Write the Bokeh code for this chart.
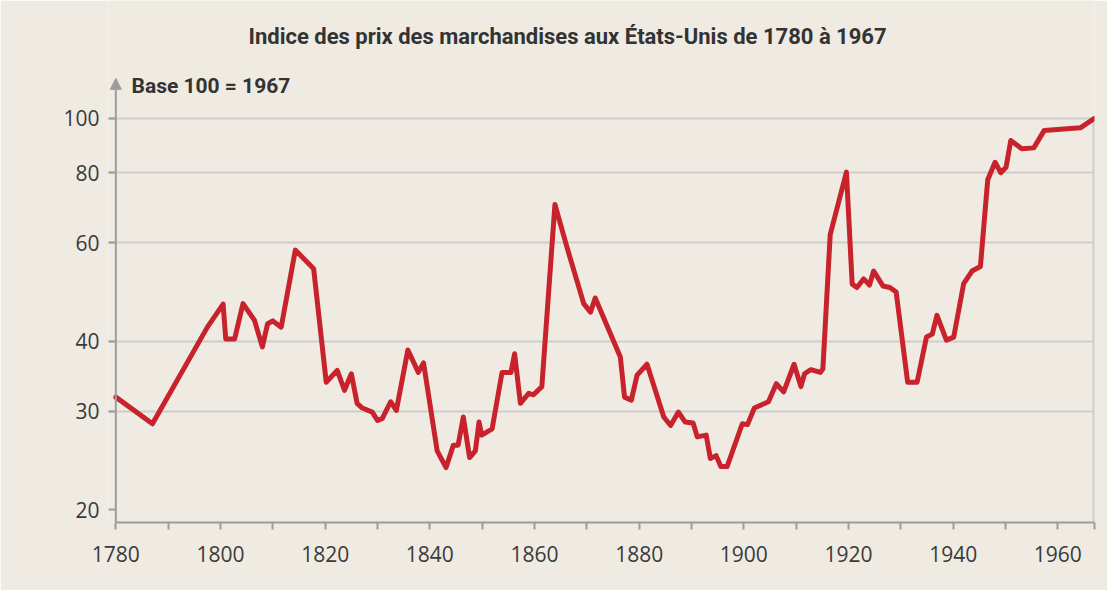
from bokeh.plotting import figure
from bokeh.models import FixedTicker, Label, Arrow, NormalHead, Range1d, ColumnDataSource
from bokeh.embed import file_html
from bokeh.resources import INLINE

# ---- data ----
years = [1780, 1787, 1797.5, 1800.5, 1801, 1802.7, 1804.3, 1806.5, 1808, 1809,
         1810, 1811.6, 1814.3, 1817.8, 1820.2, 1822.3, 1823.7, 1825, 1826.1, 1827.1,
         1829, 1830, 1830.9, 1832.5, 1833.6, 1835.8, 1837.8, 1838.8, 1841.4, 1843.1,
         1844.5, 1845.4, 1846.4, 1847.6, 1848.7, 1849.4, 1849.9, 1851.9, 1853.8, 1855.5,
         1856.2, 1857.3, 1858.9, 1859.8, 1861.4, 1863.9, 1866.2, 1869.4, 1870.7, 1871.6,
         1876.4, 1877.2, 1878.5, 1879.6, 1881.5, 1884.7, 1886, 1887.5, 1888.8, 1890.3,
         1891.1, 1892.8, 1893.6, 1894.7, 1895.6, 1896.8, 1899.7, 1900.7, 1902, 1904.7,
         1906.2, 1907.6, 1909.6, 1910.9, 1911.6, 1912.8, 1914.6, 1915.1, 1916.5, 1919.6,
         1920.7, 1921.6, 1922.9, 1924, 1924.8, 1926.6, 1927.9, 1929.1, 1931.3, 1933.1,
         1934.9, 1936, 1936.9, 1938.7, 1940.1, 1942, 1943.6, 1945.2, 1946.6, 1948,
         1949.1, 1950.1, 1951, 1953.1, 1955.4, 1957.4, 1964.3, 1967]
index = [31.8, 28.5, 42.4, 46.6, 40.4, 40.4, 46.7, 43.6, 39.1, 43.0,
         43.5, 42.4, 58.2, 53.9, 33.8, 35.5, 32.7, 35.0, 31.0, 30.4,
         29.9, 28.9, 29.1, 31.2, 30.1, 38.6, 35.2, 36.6, 25.5, 23.8,
         26.1, 26.1, 29.3, 24.8, 25.5, 28.7, 27.2, 27.9, 35.2, 35.2,
         38.0, 31.0, 32.3, 32.1, 33.2, 70.2, 58.9, 46.7, 45.1, 47.8,
         37.5, 31.8, 31.4, 34.8, 36.4, 29.3, 28.3, 29.9, 28.7, 28.6,
         27.0, 27.2, 24.7, 25.0, 23.9, 23.9, 28.5, 28.4, 30.4, 31.2,
         33.6, 32.5, 36.4, 33.2, 35.0, 35.6, 35.2, 35.7, 62.0, 80.2,
         50.6, 49.9, 51.7, 50.4, 53.4, 50.2, 49.9, 49.0, 33.8, 33.8,
         40.7, 41.2, 44.5, 40.2, 40.7, 50.7, 53.4, 54.4, 77.7, 83.5,
         80.0, 81.8, 91.3, 88.3, 88.6, 95.2, 96.2, 100]

y_ticks = [20, 30, 40, 60, 80, 100]
x_major = [1780, 1800, 1820, 1840, 1860, 1880, 1900, 1920, 1940, 1960]
x_minor = [1790, 1810, 1830, 1850, 1870, 1890, 1910, 1930, 1950, 1967]

title_text = "Indice des prix des marchandises aux États-Unis de 1780 à 1967"
unit_text = "Base 100 = 1967"

BG = "#efebe2"
AXIS = "#9c9c9c"
GRID = "#cfcccb"
RED = "#c8222c"
TXT = "#333333"

X_START, X0, X1 = 1778.6, 1780, 1967
Y0, Y_TOP = 18.99, 162.4      # frame spans the full height above the axis
ARROW_TIP = 117.9             # top of the vertical axis arrow

p = figure(width=1107, height=590, y_axis_type="log",
           x_range=Range1d(X_START, X1), y_range=Range1d(Y0, Y_TOP),
           output_backend="svg", toolbar_location=None,
           min_border_left=108, min_border_right=13,
           min_border_top=0, min_border_bottom=68,
           background_fill_color=BG, border_fill_color=BG,
           outline_line_color=None)
p.title.visible = False

# axes
p.xaxis.ticker = FixedTicker(ticks=x_major, minor_ticks=x_minor)
p.xaxis.major_label_overrides = {t: str(t) for t in x_major}
p.xaxis.bounds = (X0, X1)
p.yaxis.ticker = FixedTicker(ticks=y_ticks, minor_ticks=[])
p.yaxis.major_label_overrides = {t: str(t) for t in y_ticks}

for ax in (p.xaxis[0], p.yaxis[0]):
    ax.axis_line_color = AXIS
    ax.axis_line_width = 2
    ax.major_tick_line_color = AXIS
    ax.major_tick_line_width = 2
    ax.minor_tick_line_color = AXIS
    ax.minor_tick_line_width = 2
    ax.major_label_text_font = "Open Sans"
    ax.major_label_text_font_size = "21px"
    ax.major_label_text_color = "#3a3a3a"

p.xaxis.major_tick_in = 0
p.xaxis.minor_tick_in = 0
p.xaxis.major_tick_out = 7
p.xaxis.minor_tick_out = 7
p.xaxis.major_label_standoff = 16

# y axis sits at the frame edge; its ticks point inward up to the 1780 line
p.yaxis.axis_line_color = None
p.yaxis.major_tick_out = 0
p.yaxis.major_tick_in = 7
p.yaxis.minor_tick_in = 0
p.yaxis.minor_tick_out = 0
p.yaxis.major_label_standoff = 9

p.xgrid.visible = False
p.ygrid.ticker = FixedTicker(ticks=y_ticks[1:])
p.ygrid.grid_line_color = GRID
p.ygrid.grid_line_width = 2

# right border line, from the bottom up to 100
p.segment(x0=[X1], y0=[Y0], x1=[X1], y1=[y_ticks[-1]], line_color=GRID, line_width=4)

# vertical axis line with arrow head at 1780
p.add_layout(Arrow(end=NormalHead(size=11, fill_color=AXIS, line_color=AXIS),
                   x_start=X0, y_start=Y0, x_end=X0, y_end=ARROW_TIP,
                   line_color=AXIS, line_width=2))

# series
src = ColumnDataSource(dict(year=years, index=index))
p.line("year", "index", source=src, line_color=RED, line_width=5,
       line_join="round", line_cap="round")

# title and unit label
p.add_layout(Label(x=140, y=486, x_units="screen", y_units="screen",
                   text=title_text, text_align="left", text_baseline="alphabetic",
                   text_font="Roboto", text_font_style="bold",
                   text_font_size="22px", text_color=TXT))
p.add_layout(Label(x=23, y=437, x_units="screen", y_units="screen",
                   text=unit_text, text_align="left", text_baseline="alphabetic",
                   text_font="Roboto", text_font_style="bold",
                   text_font_size="21px", text_color=TXT))

open("out.html", "w").write(file_html(p, INLINE))
